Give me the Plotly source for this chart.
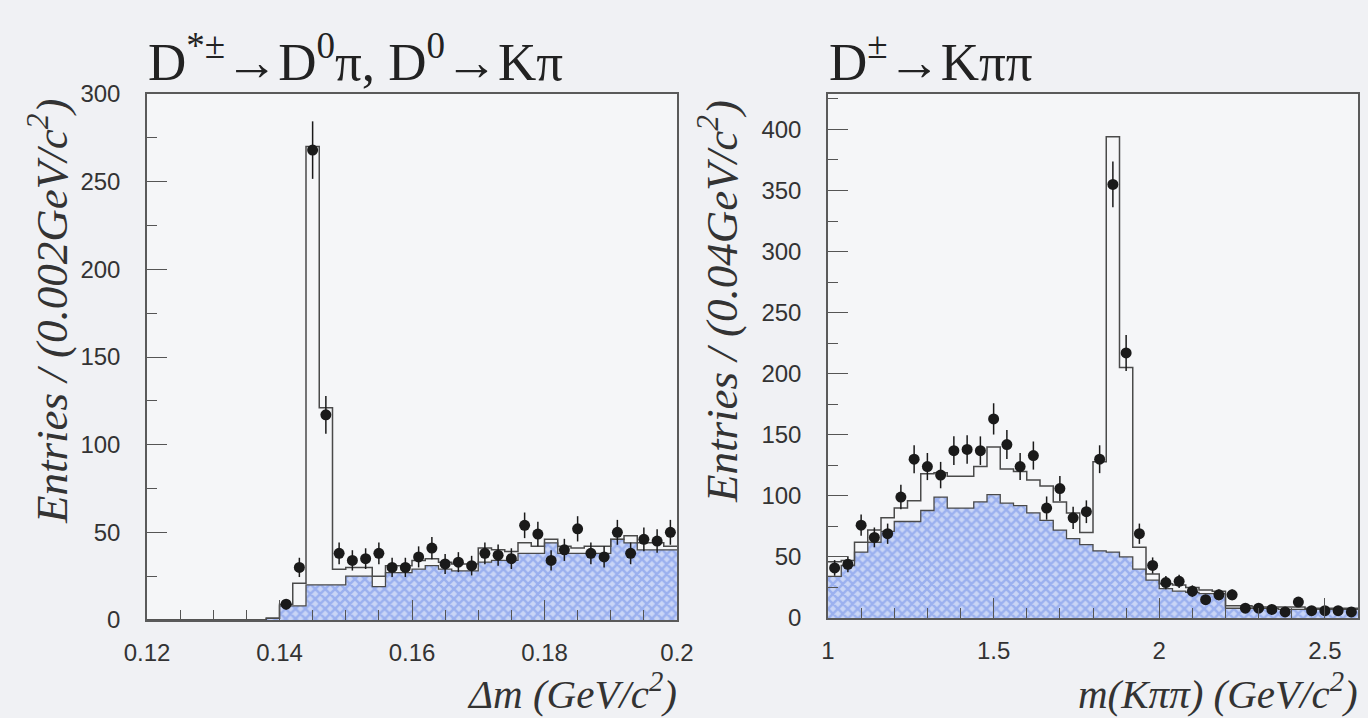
import plotly.graph_objects as go
from plotly.subplots import make_subplots

# ---------------- data: left panel (Delta m), 40 bins of 0.002 from 0.12 ----------------
left_x0 = 0.12
left_bw = 0.002
left_total = [0, 0, 0, 0, 0, 0, 0, 0, 0, 1,
              9, 21, 270, 121, 29, 30, 30, 25, 31, 31,
              34, 35, 33, 32, 32, 41, 40, 39, 44, 42,
              46, 42, 41, 42, 42, 46, 48, 44, 44, 42]
left_bkg = [0, 0, 0, 0, 0, 0, 0, 0, 0, 1,
            8, 8, 20, 20, 20, 25, 25, 19, 27, 27,
            29, 31, 29, 28, 28, 33, 34, 34, 38, 38,
            44, 38, 38, 38, 38, 46, 44, 40, 40, 40]
left_data = [None, None, None, None, None, None, None, None, None, None,
             9, 30, 268, 117, 38, 34, 35, 38, 30, 30,
             36, 41, 32, 33, 31, 38, 37, 35, 54, 49,
             34, 40, 52, 38, 36, 50, 38, 46, 45, 50]
left_err = [None, None, None, None, None, None, None, None, None, None,
            3.0, 5.5, 16.4, 10.8, 6.2, 5.8, 5.9, 6.2, 5.5, 5.5,
            6.0, 6.4, 5.7, 5.7, 5.6, 6.2, 6.1, 5.9, 7.3, 7.0,
            5.8, 6.3, 7.2, 6.2, 6.0, 7.1, 6.2, 6.8, 6.7, 7.1]

# ---------------- data: right panel (m(K pi pi)), 40 bins of 0.04 from 1.0 ----------------
right_x0 = 1.0
right_bw = 0.04
right_total = [46, 47, 62, 72, 82, 90, 96, 118, 119, 116,
               116, 124, 140, 122, 120, 113, 108, 95, 86, 70,
               128, 394, 205, 58, 36, 28, 27, 25, 23, 22,
               10, 10, 9, 9, 9, 9, 8, 8, 8, 8]
right_bkg = [34, 43, 54, 62, 71, 79, 79, 88, 99, 90,
             90, 95, 101, 94, 92, 86, 80, 72, 65, 60,
             55, 54, 50, 40, 31, 24, 22, 21, 20, 20,
             8, 8, 8, 8, 7, 7, 7, 7, 7, 7]
right_data = [41, 44, 76, 66, 69, 99, 130, 124, 117, 137,
              138, 137, 163, 142, 124, 133, 90, 106, 82, 87,
              130, 355, 217, 69, 43, 29, 30, 22, 15, 19,
              19, 8, 8, 7, 5, 13, 6, 6, 6, 5]
right_err = [6.4, 6.6, 8.7, 8.1, 8.3, 10.0, 11.4, 11.1, 10.8, 11.7,
             11.7, 11.7, 12.8, 11.9, 11.1, 11.5, 9.5, 10.3, 9.1, 9.3,
             11.4, 18.8, 14.7, 8.3, 6.6, 5.4, 5.5, 4.7, 3.9, 4.4,
             4.4, 2.8, 2.8, 2.6, 2.2, 3.6, 2.5, 2.5, 2.5, 2.2]

left_title = "D<sup>*±</sup>→D<sup>0</sup>π, D<sup>0</sup>→Kπ"
right_title = "D<sup>±</sup>→Kππ"
left_ytitle = "<i>Entries / (0.002GeV/c<sup>2</sup>)</i>"
right_ytitle = "<i>Entries / (0.04GeV/c<sup>2</sup>)</i>"
left_xtitle = "<i>Δm (GeV/c<sup>2</sup>)</i>"
right_xtitle = "<i>m(Kππ) (GeV/c<sup>2</sup>)</i>"

W, H = 1368, 718
LINE = "#4a4a4a"
PAPER = "#f0f1f4"
PLOT = "#f5f6f8"
SERIF = "Liberation Serif"
SANS = "Liberation Sans"


def edges(x0, bw, n):
    return [round(x0 + bw * i, 6) for i in range(n + 1)]


def centers(x0, bw, n):
    return [round(x0 + bw * (i + 0.5), 6) for i in range(n)]


fig = make_subplots(rows=1, cols=2)


def add_panel(col, x0, bw, total, bkg, data, err):
    n = len(total)
    ex = edges(x0, bw, n)
    fig.add_trace(go.Scatter(
        x=ex, y=bkg + [bkg[-1]], mode="lines", line=dict(shape="hv", color=LINE, width=1.3),
        fill="tozeroy", fillcolor="#c9d5f6",
        fillpattern=dict(shape="x", fgcolor="#6d8ce8", bgcolor="#c9d5f6", size=7, solidity=0.6),
        hoverinfo="skip", showlegend=False), row=1, col=col)
    fig.add_trace(go.Scatter(
        x=ex, y=total + [total[-1]], mode="lines", line=dict(shape="hv", color=LINE, width=1.5),
        hoverinfo="skip", showlegend=False), row=1, col=col)
    fig.add_trace(go.Scatter(
        x=centers(x0, bw, n), y=data, mode="markers",
        marker=dict(color="#1a1a1a", size=11),
        error_y=dict(type="data", array=err, visible=True, color="#1a1a1a", thickness=1.5, width=0),
        showlegend=False), row=1, col=col)


add_panel(1, left_x0, left_bw, left_total, left_bkg, left_data, left_err)
add_panel(2, right_x0, right_bw, right_total, right_bkg, right_data, right_err)

ax_common = dict(showline=True, linecolor="#5a5a5a", linewidth=1.5, mirror=True,
                 ticks="inside", ticklen=20, tickwidth=1.3, tickcolor="#555555",
                 showgrid=False, zeroline=False, automargin=False,
                 tickfont=dict(family=SANS, size=24, color="#333333"))

fig.update_xaxes(**ax_common)
fig.update_yaxes(**ax_common)

minor_style = dict(ticks="inside", ticklen=10, tickcolor="#555555", tickwidth=1.2)
fig.update_xaxes(range=[0.12, 0.2], tickmode="linear", tick0=0.12, dtick=0.02,
                 minor=dict(tickmode="linear", tick0=0.12, dtick=0.005, **minor_style),
                 domain=[147 / W, 677 / W], ticklabelstandoff=10, row=1, col=1)
fig.update_xaxes(range=[1.0, 2.6], tickmode="linear", tick0=1.0, dtick=0.5,
                 minor=dict(tickmode="linear", tick0=1.0, dtick=0.1, **minor_style),
                 domain=[828 / W, 1358 / W], ticklabelstandoff=10, row=1, col=2)
fig.update_yaxes(range=[0, 300], tickmode="linear", tick0=0, dtick=50,
                 minor=dict(tickmode="linear", tick0=0, dtick=25, **minor_style),
                 domain=[1 - 620 / H, 1 - 94 / H], ticklabelstandoff=20, row=1, col=1)
fig.update_yaxes(range=[0, 429], tickmode="linear", tick0=0, dtick=50,
                 minor=dict(tickmode="linear", tick0=0, dtick=25, **minor_style),
                 domain=[1 - 618 / H, 1 - 94 / H], ticklabelstandoff=20, row=1, col=2)

ann = []
ann.append(dict(text=left_title, x=146 / W, y=1 - 58 / H, xref="paper", yref="paper",
                xanchor="left", yanchor="middle", showarrow=False,
                font=dict(family=SERIF, size=53, color="#222222")))
ann.append(dict(text=right_title, x=827 / W, y=1 - 58 / H, xref="paper", yref="paper",
                xanchor="left", yanchor="middle", showarrow=False,
                font=dict(family=SERIF, size=53, color="#222222")))
ann.append(dict(text=left_ytitle, x=48 / W, y=1 - 312 / H, xref="paper", yref="paper",
                xanchor="center", yanchor="middle", showarrow=False, textangle=-90,
                font=dict(family=SERIF, size=45, color="#333333")))
ann.append(dict(text=right_ytitle, x=718 / W, y=1 - 302 / H, xref="paper", yref="paper",
                xanchor="center", yanchor="middle", showarrow=False, textangle=-90,
                font=dict(family=SERIF, size=45, color="#333333")))
ann.append(dict(text=left_xtitle, x=679 / W, y=1 - 691 / H, xref="paper", yref="paper",
                xanchor="right", yanchor="middle", showarrow=False,
                font=dict(family=SERIF, size=41, color="#333333")))
ann.append(dict(text=right_xtitle, x=1360 / W, y=1 - 691 / H, xref="paper", yref="paper",
                xanchor="right", yanchor="middle", showarrow=False,
                font=dict(family=SERIF, size=41, color="#333333")))

fig.update_layout(width=W, height=H, margin=dict(l=0, r=0, t=0, b=0),
                  paper_bgcolor=PAPER, plot_bgcolor=PLOT, annotations=ann,
                  showlegend=False)

fig.write_html("out.html", config={"displayModeBar": False},
               post_script="document.body.style.margin='0';document.body.style.overflow='hidden';")
